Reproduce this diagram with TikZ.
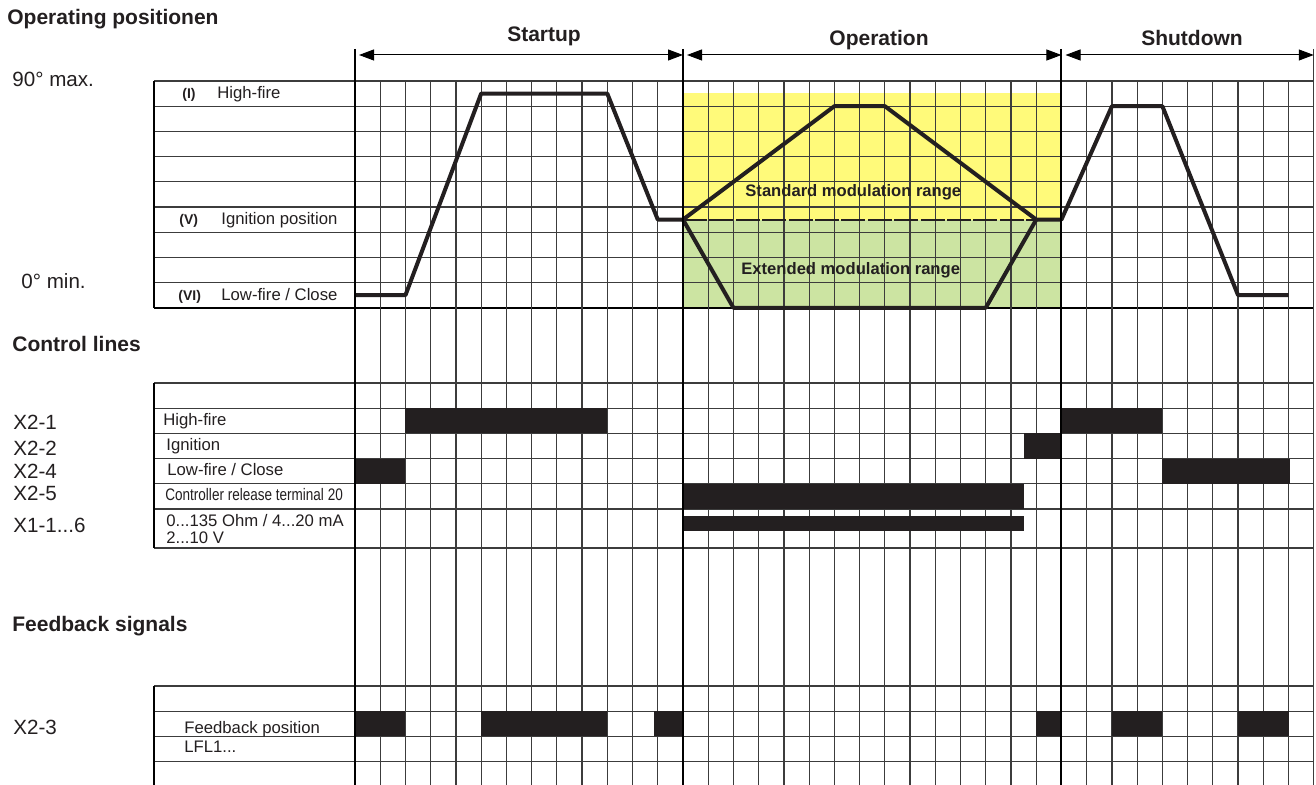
\documentclass[tikz,border=0pt]{standalone}
\usepackage{fontspec}
\usepackage{graphicx}
\setmainfont{Liberation Sans}
\usetikzlibrary{arrows.meta}
\definecolor{ink}{RGB}{35,31,32}
\definecolor{yfill}{RGB}{255,250,122}
\definecolor{gfill}{RGB}{204,228,162}
\definecolor{gridc}{RGB}{60,60,60}
\begin{document}
\begin{tikzpicture}[x=0.5pt,y=-0.5pt,
  gridline/.style={draw=gridc,line width=0.6pt},
  mainline/.style={draw=black,line width=1pt},
  bordline/.style={draw=black,line width=1.1pt},
  poscurve/.style={draw=ink,line width=2pt,line join=round},
  sigbar/.style={fill=ink},
  headtxt/.style={font=\fontsize{10.5}{12}\selectfont\bfseries,anchor=base west,inner sep=0pt,text=ink},
  bigtxt/.style={font=\fontsize{10.3}{12}\selectfont,anchor=base west,inner sep=0pt,text=ink},
  labtxt/.style={font=\fontsize{8.35}{10}\selectfont,anchor=base west,inner sep=0pt,text=ink},
  romantxt/.style={font=\fontsize{7}{8}\selectfont\bfseries,anchor=base west,inner sep=0pt,text=ink},
  phasetxt/.style={font=\fontsize{10.5}{12}\selectfont\bfseries,anchor=base,inner sep=0pt,text=ink},
  modtxt/.style={font=\fontsize{8.3}{10}\selectfont\bfseries,anchor=base west,inner sep=0pt,text=ink},
  spanarrow/.style={draw=black,line width=0.5pt,{Triangle[length=7.5pt,width=5.5pt]}-{Triangle[length=7.5pt,width=5.5pt]}}
]
% background / bounding box
\fill[white] (0,0) rectangle (1316,785);
\useasboundingbox (0,0) rectangle (1316,785);

% modulation range fills
\fill[yfill] (683,93) rectangle (1061.44,219.6);
\fill[gfill] (683,219.6) rectangle (1061.44,307.8);

% horizontal grid lines
\foreach \i in {0,...,8} \draw[gridline] (154,{81+\i*25.2}) -- (1313.74,{81+\i*25.2});
\draw[bordline] (154,307.8) -- (1313.74,307.8);
\foreach \yy in {383,408.2,433.4,458.6,483.8,509} \draw[gridline] (154,\yy) -- (1313.74,\yy);
\draw[bordline,densely dotted] (154,548) -- (1313.74,548);
\draw[gridline,line width=0.8pt] (154,548) -- (1313.74,548);
\foreach \yy in {686,711.2,736.4,761.6} \draw[gridline] (154,\yy) -- (1313.74,\yy);

% vertical grid lines
\foreach \k in {1,...,37} \draw[gridline] ({355+\k*25.23},81) -- ({355+\k*25.23},785);
\draw[gridline] (1313.74,49) -- (1313.74,785);

% label box borders
\draw[bordline] (154,81) -- (154,307.8);
\draw[bordline] (154,383) -- (154,548);
\draw[bordline] (154,686) -- (154,785);

% dashed boundary between ranges
\draw[ink,line width=1pt,dash pattern=on 12pt off 1.2pt] (683,219.6) -- (1036.21,219.6);

% position curves
\draw[poscurve] (355,295.2) -- (405.46,295.2) -- (481.15,93.6) -- (607.3,93.6) -- (657.76,219.6) -- (683,219.6)
  -- (834.37,106.2) -- (884.83,106.2) -- (1036.21,219.6) -- (1061.44,219.6)
  -- (1111.9,106.2) -- (1162.36,106.2) -- (1238.05,295.2) -- (1288.51,295.2);
\draw[poscurve] (683,219.6) -- (733.45,307.8) -- (985.75,307.8) -- (1036.21,219.6);

% control line bars
\fill[sigbar] (405.46,408.2) rectangle (607.3,433.4);
\fill[sigbar] (1061.44,408.2) rectangle (1162.36,433.4);
\fill[sigbar] (1023.6,433.4) rectangle (1061.44,458.6);
\fill[sigbar] (355,458.6) rectangle (405.46,483.8);
\fill[sigbar] (1162.36,458.6) rectangle (1290,483.8);
\fill[sigbar] (683,483.8) rectangle (1023.6,509);
\fill[sigbar] (683,516) rectangle (1023.6,530.5);

% feedback bars
\fill[sigbar] (355,711.2) rectangle (405.46,736.4);
\fill[sigbar] (481.15,711.2) rectangle (607.3,736.4);
\fill[sigbar] (654,711.2) rectangle (683,736.4);
\fill[sigbar] (1036.21,711.2) rectangle (1061.44,736.4);
\fill[sigbar] (1111.9,711.2) rectangle (1162.36,736.4);
\fill[sigbar] (1238.05,711.2) rectangle (1288.51,736.4);

% main phase boundaries
\draw[mainline] (355,49) -- (355,785);
\draw[mainline] (683,49) -- (683,785);
\draw[mainline] (1061.44,49) -- (1061.44,785);

% phase spans
\coordinate (s0) at (359,55);
\coordinate (s1) at (683,55);
\coordinate (o0) at (687,55);
\coordinate (o1) at (1061.44,55);
\coordinate (h0) at (1065.5,55);
\coordinate (h1) at (1313.74,55);
\draw[spanarrow] (s0) -- (s1);
\draw[spanarrow] (o0) -- (o1);
\draw[spanarrow] (h0) -- (h1);
\node[phasetxt] (pStart) at (544,42) {Startup};
\node[phasetxt] (pOper) at (879,46) {Operation};
\node[phasetxt] (pShut) at (1192,46) {Shutdown};

% headings
\node[headtxt] (hOP) at (7,25) {Operating positionen};
\node[headtxt] (hCL) at (12,352) {Control lines};
\node[headtxt] (hFB) at (12,631) {Feedback signals};

% operating position labels
\node[bigtxt] (max) at (12,87) {90° max.};
\node[bigtxt] (min) at (21,289) {0° min.};
\node[romantxt] (rI) at (182,98.6) {(I)};
\node[labtxt] (lHF) at (217,99) {High-fire};
\node[romantxt] (rV) at (179,224.6) {(V)};
\node[labtxt] (lIP) at (221,225) {Ignition position};
\node[romantxt] (rVI) at (178,300.6) {(VI)};
\node[labtxt] (lLF) at (221,301) {Low-fire / Close};

% range labels
\node[modtxt] (stdR) at (745,197) {Standard modulation range};
\node[modtxt] (extR) at (741,275) {Extended modulation range};

% control line labels
\node[bigtxt] (x21) at (13,430) {X2-1};
\node[bigtxt] (x22) at (13,456) {X2-2};
\node[bigtxt] (x24) at (13,479) {X2-4};
\node[bigtxt] (x25) at (13,501) {X2-5};
\node[bigtxt] (x11) at (13,532) {X1-1...6};
\node[labtxt] (cHF) at (163,426) {High-fire};
\node[labtxt] (cIG) at (166,451) {Ignition};
\node[labtxt] (cLF) at (167,476) {Low-fire / Close};
\node[labtxt] (cCR) at (165,501) {\scalebox{0.81}[1]{Controller release terminal 20}};
\node[labtxt] (cAN) at (166,526) {0...135 Ohm / 4...20 mA};
\node[labtxt] (cV) at (166,544) {2...10 V};

% feedback labels
\node[bigtxt] (x23) at (13,734) {X2-3};
\node[labtxt] (fFP) at (184,733) {Feedback position};
\node[labtxt] (fLF) at (184,752) {LFL1...};
\end{tikzpicture}
\end{document}
